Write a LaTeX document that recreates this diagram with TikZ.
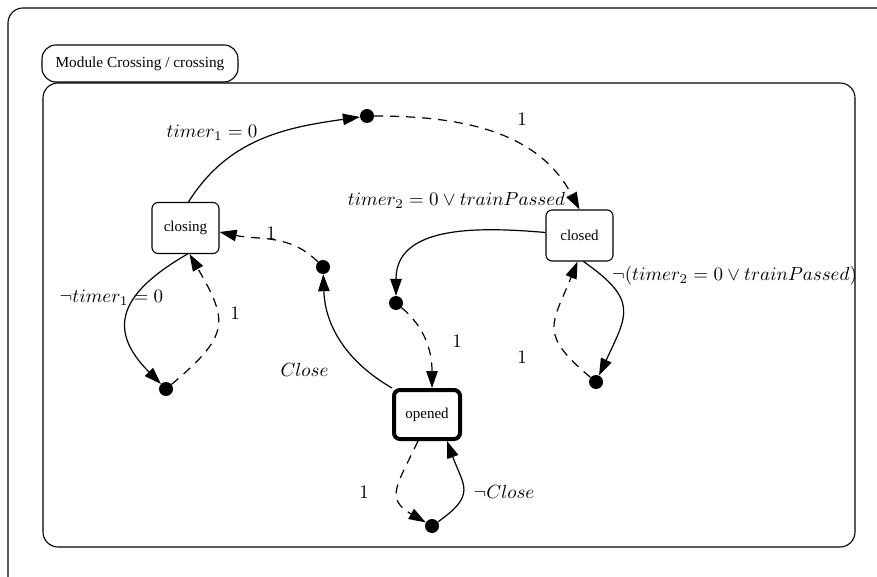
\documentclass[tikz,border=0pt]{standalone}
\usepackage{fontspec}
\newfontfamily\boxfont{Liberation Serif}
\usetikzlibrary{arrows.meta}
\begin{document}
\begin{tikzpicture}[x=1pt,y=1pt,
  frame/.style={draw, line width=1.1pt, rounded corners=15pt},
  state/.style={draw, rounded corners=6pt, minimum width=67pt, minimum height=51pt,
    line width=1.1pt, font=\boxfont\fontsize{15}{18}\selectfont},
  initstate/.style={state, line width=4pt, minimum width=66pt, minimum height=49pt},
  dot/.style={circle, fill=black, inner sep=0pt, minimum size=14pt},
  tr/.style={line width=1.2pt, -{Triangle[length=17pt,width=11.5pt]}},
  prob/.style={tr, dash pattern=on 9pt off 7pt},
  lbl/.style={scale=1.9, inner sep=0pt}
]
\useasboundingbox (0,0) rectangle (877,576);

% outer module frame, running past the page edges
\begin{scope}
  \clip (0,0) rectangle (877,576);
  \draw[frame] (8,-40) rectangle (930,568);
\end{scope}

% module body and its title tab
\draw[frame] (43,29) rectangle (855,493);
\node[draw, line width=1.1pt, rounded corners=14pt, fill=white, minimum width=196pt,
  minimum height=37pt, font=\boxfont\fontsize{15.3}{18}\selectfont] (title) at (140,512.5)
  {Module Crossing / crossing};

% states
\node[state] (closing) at (185.5,348) {closing};
\node[state] (closed) at (579.5,340.5) {closed};
\node[initstate] (opened) at (427,161.5) {opened};

% probabilistic branch points
\node[dot] (d1) at (367,460) {};
\node[dot] (d2) at (323,309) {};
\node[dot] (d3) at (396,273) {};
\node[dot] (d4) at (166,187) {};
\node[dot] (d5) at (596,194) {};
\node[dot] (d6) at (432,50) {};

% guarded transitions
\draw[tr] ([xshift=3pt]closing.north) to[out=58,in=188] (d1);
\draw[tr] ([yshift=3pt]closed.west) to[out=175,in=90,looseness=1.1] (d3);
\draw[tr] ([xshift=4pt]closed.south) to[out=-35,in=65,looseness=1.5] (d5);
\draw[tr] (opened.north west) to[out=150,in=-88] (d2);
\draw[tr] ([xshift=2pt]closing.south) to[out=-150,in=135,looseness=1.5] (d4);
\draw[tr] (d6) to[out=35,in=-70,looseness=1.5] ([xshift=20pt]opened.south);

% probabilistic branches
\draw[prob] (d1) to[out=0,in=118] (closed.north);
\draw[prob] (d3) to[out=-40,in=90] ([xshift=5pt]opened.north);
\draw[prob] (d5) to[out=140,in=-112,looseness=1.5] ([xshift=-2pt]closed.south);
\draw[prob] (d2) to[out=135,in=-12] ([yshift=-4pt]closing.east);
\draw[prob] (d4) to[out=40,in=-60,looseness=1.5] ([xshift=4pt]closing.south);
\draw[prob] ([xshift=-9pt]opened.south) to[out=-115,in=150,looseness=1.5] (d6);

% guards and probabilities
\node[lbl] (g1) at (212,443) {$timer_1 = 0$};
\node[lbl] (p1) at (522,457) {$1$};
\node[lbl] (g2) at (456.5,376) {$timer_2 = 0 \vee trainPassed$};
\node[lbl] (p2) at (271,343) {$1$};
\node[lbl] (g3) at (111.5,278) {$\neg timer_1 = 0$};
\node[lbl] (p3) at (235,263) {$1$};
\node[lbl] (g4) at (734.5,300) {$\neg (timer_2 = 0 \vee trainPassed)$};
\node[lbl] (p4) at (457,235) {$1$};
\node[lbl] (p5) at (522,219) {$1$};
\node[lbl] (g5) at (304.5,206) {$Close$};
\node[lbl] (p6) at (364,84) {$1$};
\node[lbl] (g6) at (504,84) {$\neg Close$};
\end{tikzpicture}
\end{document}
